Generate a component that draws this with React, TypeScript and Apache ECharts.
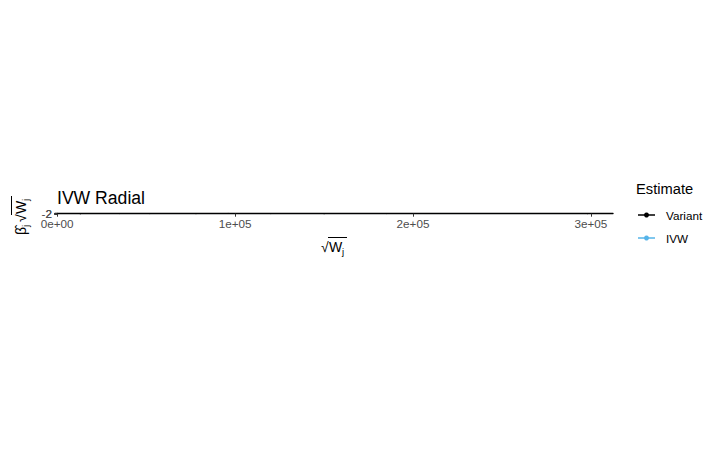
import React, { useEffect, useRef } from "react";
import * as echarts from "echarts";

// Radial IVW data: x = sqrt(W_j), y = beta_j * sqrt(W_j)
const variantX = [13000, 35000, 52000, 78000, 96000, 120000, 150000, 185000, 230000, 298000];
const variantY = [-2.1, 1.2, 0.4, -0.8, 2.3, 0.1, -1.5, 0.9, 1.7, -0.3];
const ivwX = [0, 298000];
const ivwY = [0, 0.3];
const xTicks = [0, 100000, 200000, 300000];
const yTicks = [-2, 0, 2];
const legendNames = ["Variant", "IVW"];
const legendColors = ["#000000", "#56B4E9"];

const FONT = "'Liberation Sans', Arial, Helvetica, sans-serif";

function fmtSci(v: number): string {
  if (v === 0) return "0e+00";
  const e = Math.floor(Math.log10(Math.abs(v)));
  const m = Math.round(v / Math.pow(10, e));
  return `${m}e+${String(e).padStart(2, "0")}`;
}

export default function App() {
  const ref = useRef<HTMLDivElement>(null);
  useEffect(() => {
    if (!ref.current) return;
    const chart = echarts.init(ref.current, undefined, { renderer: "svg" });
    const legendGraphics: any[] = [];
    legendNames.forEach((name, i) => {
      const y = 215 + i * 23;
      legendGraphics.push(
        { type: "line", shape: { x1: 638, y1: y, x2: 655, y2: y }, style: { stroke: legendColors[i], lineWidth: 1.5 } },
        { type: "circle", shape: { cx: 646.5, cy: y, r: 2.5 }, style: { fill: legendColors[i] } },
        { type: "text", x: 666, y, style: { text: name, fontSize: 11.7, fontFamily: FONT, fill: "#000", verticalAlign: "middle" } }
      );
    });
    chart.setOption({
      animation: false,
      backgroundColor: "#ffffff",
      grid: { left: 55, right: 107, top: 213.4, height: 0.6, containLabel: false },
      xAxis: {
        type: "value",
        min: -1200,
        max: 312400,
        z: 5,
        axisLine: { show: true, lineStyle: { color: "#000", width: 1.4 } },
        axisTick: { show: true, length: 3, lineStyle: { color: "#333" }, customValues: xTicks },
        axisLabel: {
          customValues: xTicks,
          formatter: (v: number) => fmtSci(v),
          color: "#4D4D4D",
          fontSize: 11.7,
          fontFamily: FONT,
          margin: 3,
        },
        splitLine: { show: false },
      },
      yAxis: {
        type: "value",
        min: -2.6,
        max: 2.6,
        z: 5,
        axisLine: { show: true, lineStyle: { color: "#000", width: 1.2 } },
        axisTick: { show: true, length: 3, lineStyle: { color: "#333" }, customValues: yTicks },
        axisLabel: {
          customValues: yTicks,
          color: "#4D4D4D",
          fontSize: 11.7,
          fontFamily: FONT,
          margin: 3,
          hideOverlap: false,
          showMinLabel: true,
          showMaxLabel: true,
        },
        splitLine: { show: false },
      },
      series: [
        {
          name: "IVW",
          type: "line",
          data: ivwX.map((x, i) => [x, ivwY[i]]),
          showSymbol: false,
          lineStyle: { color: "#56B4E9", width: 0.5 },
          z: 1,
        },
        {
          name: "Variant",
          type: "scatter",
          data: variantX.map((x, i) => [x, variantY[i]]),
          symbolSize: 1,
          itemStyle: { color: "#000" },
          z: 1,
        },
      ],
      graphic: [
        { type: "text", x: 57, y: 198, style: { text: "IVW Radial", fontSize: 17.6, fontFamily: FONT, fill: "#000", verticalAlign: "middle" } },
        // x axis title: sqrt(W_j)
        {
          type: "group",
          x: 321,
          y: 247,
          children: [
            { type: "text", x: 0, y: 0, style: { text: "√", fontSize: 14, fontFamily: FONT, fill: "#000", verticalAlign: "middle" } },
            { type: "text", x: 8, y: 0, style: { text: "W", fontSize: 14, fontFamily: FONT, fill: "#000", verticalAlign: "middle" } },
            { type: "text", x: 21, y: 4, style: { text: "j", fontSize: 9.5, fontFamily: FONT, fill: "#000", verticalAlign: "middle" } },
            { type: "line", shape: { x1: 7, y1: -9.5, x2: 26, y2: -9.5 }, style: { stroke: "#000", lineWidth: 1 } },
          ],
        },
        // y axis title: beta_hat_j sqrt(W_j)
        {
          type: "group",
          x: 21,
          y: 235,
          rotation: Math.PI / 2,
          children: [
            { type: "text", x: 0, y: 0, style: { text: "β̂", fontSize: 14, fontFamily: FONT, fill: "#000", verticalAlign: "middle" } },
            { type: "text", x: 8, y: 4, style: { text: "j", fontSize: 9.5, fontFamily: FONT, fill: "#000", verticalAlign: "middle" } },
            { type: "text", x: 13, y: 0, style: { text: "√", fontSize: 14, fontFamily: FONT, fill: "#000", verticalAlign: "middle" } },
            { type: "text", x: 21, y: 0, style: { text: "W", fontSize: 14, fontFamily: FONT, fill: "#000", verticalAlign: "middle" } },
            { type: "text", x: 34, y: 4, style: { text: "j", fontSize: 9.5, fontFamily: FONT, fill: "#000", verticalAlign: "middle" } },
            { type: "line", shape: { x1: 20, y1: -9.5, x2: 39, y2: -9.5 }, style: { stroke: "#000", lineWidth: 1 } },
          ],
        },
        { type: "text", x: 636, y: 189, style: { text: "Estimate", fontSize: 14.7, fontFamily: FONT, fill: "#000", verticalAlign: "middle" } },
        ...legendGraphics,
      ],
    });
    return () => chart.dispose();
  }, []);
  return <div ref={ref} style={{ position: "fixed", left: 0, top: 0, width: 720, height: 451, background: "#fff" }} />;
}
